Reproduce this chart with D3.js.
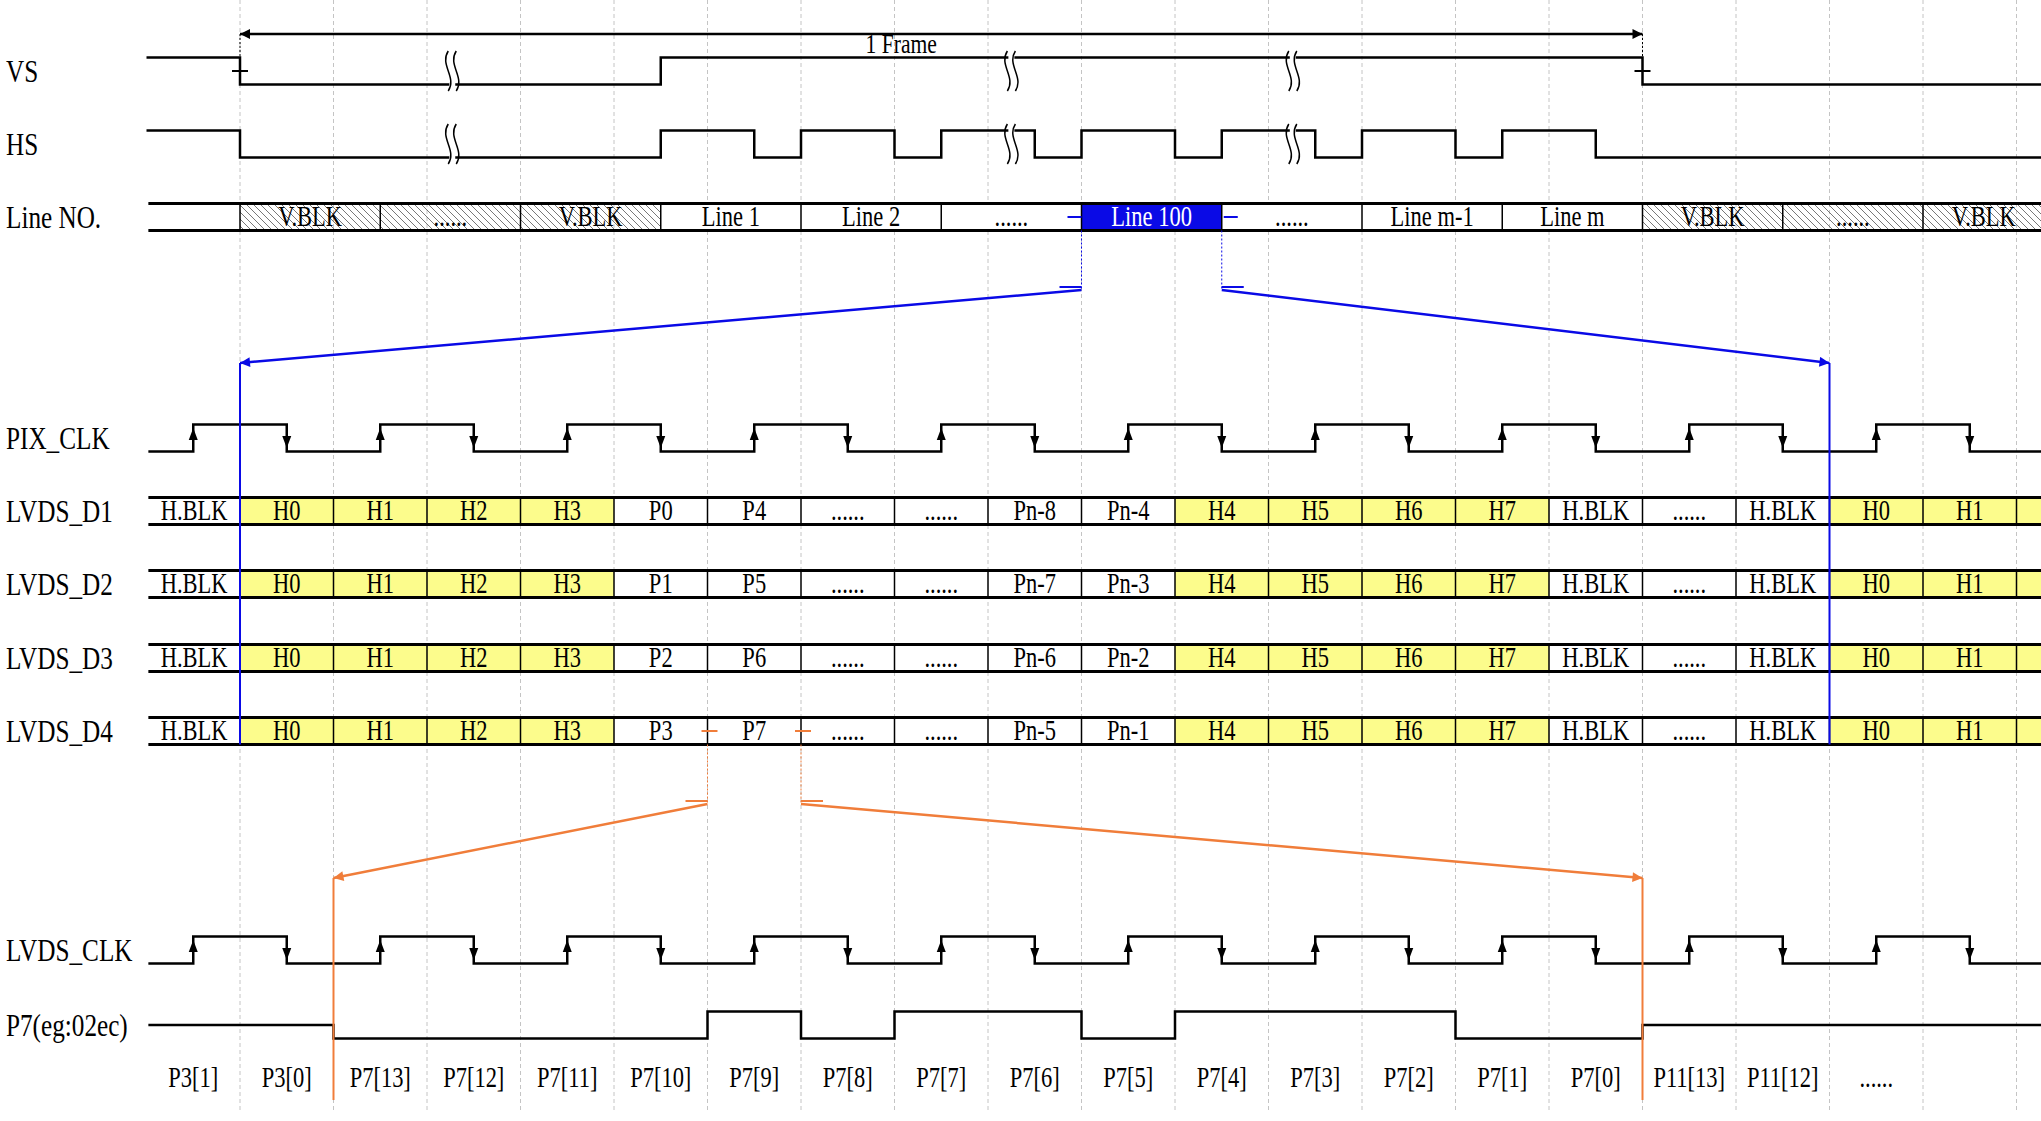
<!DOCTYPE html>
<html>
<head>
<meta charset="utf-8">
<script src="https://cdn.jsdelivr.net/npm/d3@7"></script>
<style>
  body { margin: 0; background: #fff; }
  text { font-family: "Liberation Serif", "Times New Roman", serif; }
</style>
</head>
<body>
<script>
// time is in grid units, one unit = half a pixel-clock period
var ROW_NAMES = ['VS', 'HS', 'Line NO.', 'PIX_CLK', 'LVDS_D1', 'LVDS_D2', 'LVDS_D3', 'LVDS_D4', 'LVDS_CLK', 'P7(eg:02ec)']

// level waveforms: [time, level]  (1 = high, 0 = low)
var VS_LEVELS = [[-1, 1], [0, 0], [4.5, 1], [15, 0]]
var HS_LEVELS = [[-1, 1], [0, 0], [4.5, 1], [5.5, 0], [6, 1], [7, 0], [7.5, 1], [8.5, 0], [9, 1], [10, 0],
                 [10.5, 1], [11.5, 0], [12, 1], [13, 0], [13.5, 1], [14.5, 0]]
var BREAKS = [2.27, 8.25, 11.26]

var LINE_CELLS = ['V.BLK', '......', 'V.BLK', 'Line 1', 'Line 2', '......', 'Line 100', '......', 'Line m-1', 'Line m', 'V.BLK', '......', 'V.BLK']
var LINE_HATCH = [1, 1, 1, 0, 0, 0, 0, 0, 0, 0, 1, 1, 1]
var LINE_FOCUS = 6

var D1_CELLS = ['H.BLK', 'H0', 'H1', 'H2', 'H3', 'P0', 'P4', '......', '......', 'Pn-8', 'Pn-4', 'H4', 'H5', 'H6', 'H7', 'H.BLK', '......', 'H.BLK', 'H0', 'H1', '']
var D2_CELLS = ['H.BLK', 'H0', 'H1', 'H2', 'H3', 'P1', 'P5', '......', '......', 'Pn-7', 'Pn-3', 'H4', 'H5', 'H6', 'H7', 'H.BLK', '......', 'H.BLK', 'H0', 'H1', '']
var D3_CELLS = ['H.BLK', 'H0', 'H1', 'H2', 'H3', 'P2', 'P6', '......', '......', 'Pn-6', 'Pn-2', 'H4', 'H5', 'H6', 'H7', 'H.BLK', '......', 'H.BLK', 'H0', 'H1', '']
var D4_CELLS = ['H.BLK', 'H0', 'H1', 'H2', 'H3', 'P3', 'P7', '......', '......', 'Pn-5', 'Pn-1', 'H4', 'H5', 'H6', 'H7', 'H.BLK', '......', 'H.BLK', 'H0', 'H1', '']
var CELL_YELLOW = [0, 1, 1, 1, 1, 0, 0, 0, 0, 0, 0, 1, 1, 1, 1, 0, 0, 0, 1, 1, 1]

var P7_BITS = [0, 0, 0, 0, 1, 0, 1, 1, 0, 1, 1, 1, 0, 0]   // P7[13] .. P7[0]
var BIT_LABELS = ['P3[1]', 'P3[0]', 'P7[13]', 'P7[12]', 'P7[11]', 'P7[10]', 'P7[9]', 'P7[8]', 'P7[7]', 'P7[6]',
                  'P7[5]', 'P7[4]', 'P7[3]', 'P7[2]', 'P7[1]', 'P7[0]', 'P11[13]', 'P11[12]', '......']

var W = 2041, H = 1121
var T_START = -0.98, T_END = 19.3
var BLUE = '#0a0ae6', ORANGE = '#f07d3a', YELLOW = '#fcfc8c'

var x = d3.scaleLinear().domain([0, 1]).range([240, 333.5])
var rowY = d3.scaleOrdinal().domain(ROW_NAMES).range([71, 144, 217, 438, 511, 584, 658, 731, 950, 1025])
var HALF = 13.5

var svg = d3.select('body').append('svg').attr('width', W).attr('height', H)
var defs = svg.append('defs')
var pat = defs.append('pattern').attr('id', 'hatch').attr('patternUnits', 'userSpaceOnUse')
  .attr('width', 7).attr('height', 7)
pat.append('path').attr('d', 'M-1,-1 L8,8 M-8,-1 L1,8 M6,-1 L15,8').attr('stroke', '#555').attr('stroke-width', 0.8)

function marker(id, color){
  defs.append('marker').attr('id', id).attr('viewBox', '0 0 10 10').attr('refX', 10).attr('refY', 5)
    .attr('markerWidth', 14).attr('markerHeight', 10).attr('markerUnits', 'userSpaceOnUse').attr('orient', 'auto-start-reverse')
    .append('path').attr('d', 'M0,0 L10,5 L0,10 Z').attr('fill', color)
}
marker('arrBlack', '#000'); marker('arrBlue', BLUE); marker('arrOrange', ORANGE)

// text drawn a little taller than wide, like the source figure
function tallText(g, tx, ty, size){
  return g.append('text').attr('transform', 'translate(' + tx + ',' + ty + ') scale(0.9,1.15)').attr('font-size', size)
}

// grid
svg.append('g').selectAll('line').data(d3.range(0, 20)).enter().append('line')
  .attr('x1', x).attr('x2', x).attr('y1', 0).attr('y2', 1110)
  .attr('stroke', '#c4c4c4').attr('stroke-width', 1).attr('stroke-dasharray', '4,3')

// row labels
var labels = svg.append('g')
ROW_NAMES.forEach(function(d){ tallText(labels, 6, rowY(d) + 11, 28).text(d) })

function levelPath(levels, yc, end){
  var pts = []
  levels.forEach(function(l, i){
    var y = yc + (l[1] ? -HALF : HALF)
    var t1 = i + 1 < levels.length ? levels[i + 1][0] : end
    pts.push([x(l[0]), y], [x(t1), y])
  })
  return d3.line()(pts)
}

function drawLevels(levels, row){
  svg.append('path').attr('d', levelPath(levels, rowY(row), T_END)).attr('fill', 'none')
    .attr('stroke', '#000').attr('stroke-width', 2.5)
}
drawLevels(VS_LEVELS, 'VS')
drawLevels(HS_LEVELS, 'HS')

// break marks
BREAKS.forEach(function(t){
  ['VS', 'HS'].forEach(function(r){
    var cx = x(t), y0 = rowY(r) - 20, y1 = rowY(r) + 20
    var s = function(dx){ return 'M' + (cx + dx) + ',' + y0 + ' C' + (cx + dx - 9) + ',' + (y0 + 14) + ' ' + (cx + dx + 9) + ',' + (y1 - 14) + ' ' + (cx + dx) + ',' + y1 }
    svg.append('rect').attr('x', cx - 3).attr('y', y0).attr('width', 6).attr('height', y1 - y0).attr('fill', '#fff')
    svg.append('path').attr('d', s(-4)).attr('fill', 'none').attr('stroke', '#000').attr('stroke-width', 1.5)
    svg.append('path').attr('d', s(4)).attr('fill', 'none').attr('stroke', '#000').attr('stroke-width', 1.5)
  })
})

// frame arrow
svg.append('line').attr('x1', x(0)).attr('x2', x(15)).attr('y1', 34).attr('y2', 34).attr('stroke', '#000').attr('stroke-width', 2.5)
  .attr('marker-start', 'url(#arrBlack)').attr('marker-end', 'url(#arrBlack)')
tallText(svg, x(7.5) - 40, 53, 24).attr('text-anchor', 'middle').text('1 Frame')
;[0, 15].forEach(function(t){
  svg.append('line').attr('x1', x(t)).attr('x2', x(t) + 16).attr('y1', 71).attr('y2', 71).attr('stroke', '#000').attr('stroke-width', 2)
    .attr('transform', 'translate(-8,0)')
  svg.append('line').attr('x1', x(t)).attr('x2', x(t)).attr('y1', 34).attr('y2', 58).attr('stroke', '#000').attr('stroke-dasharray', '2,2')
})

// bus rows
function drawBus(cells, row, starts, fills, texts){
  var yc = rowY(row), y0 = yc - HALF, y1 = yc + HALF
  var g = svg.append('g')
  cells.forEach(function(c, i){
    var a = starts(i), b = i + 1 < cells.length ? starts(i + 1) : T_END
    g.append('rect').attr('x', x(a)).attr('y', y0).attr('width', x(b) - x(a)).attr('height', y1 - y0).attr('fill', fills(i))
    if(i > 0) g.append('line').attr('x1', x(a)).attr('x2', x(a)).attr('y1', y0).attr('y2', y1).attr('stroke', '#000').attr('stroke-width', 1.5)
    tallText(g, (x(a) + x(b)) / 2, yc + 9, 25).attr('text-anchor', 'middle').attr('fill', texts(i)).text(c)
  })
  ;[y0, y1].forEach(function(y){
    g.append('line').attr('x1', x(T_START)).attr('x2', x(T_END)).attr('y1', y).attr('y2', y).attr('stroke', '#000').attr('stroke-width', 3)
  })
}

drawBus([''].concat(LINE_CELLS), 'Line NO.',
  function(i){ return i === 0 ? T_START : (i - 1) * 1.5 },
  function(i){ return i === LINE_FOCUS + 1 ? BLUE : (i > 0 && LINE_HATCH[i - 1] ? 'url(#hatch)' : '#fff') },
  function(i){ return i === LINE_FOCUS + 1 ? '#fff' : '#000' })

;[[D1_CELLS, 'LVDS_D1'], [D2_CELLS, 'LVDS_D2'], [D3_CELLS, 'LVDS_D3'], [D4_CELLS, 'LVDS_D4']].forEach(function(p){
  drawBus(p[0], p[1],
    function(i){ return i === 0 ? T_START : i - 1 },
    function(i){ return CELL_YELLOW[i] ? YELLOW : '#fff' },
    function(){ return '#000' })
})

// clocks
function drawClock(row){
  var yc = rowY(row), hi = yc - HALF, lo = yc + HALF
  var edges = d3.range(-0.5, T_END, 1)
  var pts = [[x(T_START), lo]]
  edges.forEach(function(t, i){
    var rising = i % 2 === 0
    pts.push([x(t), rising ? lo : hi], [x(t), rising ? hi : lo])
  })
  pts.push([x(T_END), edges.length % 2 ? hi : lo])
  svg.append('path').attr('d', d3.line()(pts)).attr('fill', 'none').attr('stroke', '#000').attr('stroke-width', 2.5)
  svg.append('g').selectAll('path').data(edges).enter().append('path')
    .attr('d', function(t, i){
      var cx = x(t)
      return i % 2 === 0 ? 'M' + (cx - 4.5) + ',' + (yc + 2) + ' L' + (cx + 4.5) + ',' + (yc + 2) + ' L' + cx + ',' + (yc - 10) + ' Z'
                         : 'M' + (cx - 4.5) + ',' + (yc - 2) + ' L' + (cx + 4.5) + ',' + (yc - 2) + ' L' + cx + ',' + (yc + 10) + ' Z'
    }).attr('fill', '#000')
}
drawClock('PIX_CLK')
drawClock('LVDS_CLK')

// P7 serial data
var p7y = rowY('P7(eg:02ec)')
var p7pts = [[x(T_START), p7y], [x(1), p7y]]
P7_BITS.forEach(function(b, i){
  var y = b ? p7y - HALF : p7y + HALF
  p7pts.push([x(1 + i), y], [x(2 + i), y])
})
p7pts.push([x(15), p7y], [x(T_END), p7y])
svg.append('path').attr('d', d3.line()(p7pts)).attr('fill', 'none').attr('stroke', '#000').attr('stroke-width', 2.5)

var bits = svg.append('g')
BIT_LABELS.forEach(function(d, i){ tallText(bits, x(i - 0.5), 1087, 25).attr('text-anchor', 'middle').text(d) })

// blue zoom lines (Line 100 -> one line of pixels)
var bl = x(LINE_FOCUS * 1.5), br = x(LINE_FOCUS * 1.5 + 1.5)
;[bl, br].forEach(function(xx, i){
  svg.append('line').attr('x1', xx).attr('x2', xx).attr('y1', rowY('Line NO.') + HALF).attr('y2', 290)
    .attr('stroke', BLUE).attr('stroke-dasharray', '2,2')
  svg.append('line').attr('x1', i ? xx + 2 : xx - 14).attr('x2', i ? xx + 16 : xx).attr('y1', 217).attr('y2', 217).attr('stroke', BLUE).attr('stroke-width', 2)
  svg.append('line').attr('x1', i ? xx : xx - 22).attr('x2', i ? xx + 22 : xx).attr('y1', 287).attr('y2', 287).attr('stroke', BLUE).attr('stroke-width', 2)
})
svg.append('line').attr('x1', bl).attr('y1', 290).attr('x2', x(0)).attr('y2', 363).attr('stroke', BLUE).attr('stroke-width', 2.5).attr('marker-end', 'url(#arrBlue)')
svg.append('line').attr('x1', br).attr('y1', 290).attr('x2', x(17)).attr('y2', 363).attr('stroke', BLUE).attr('stroke-width', 2.5).attr('marker-end', 'url(#arrBlue)')
;[0, 17].forEach(function(t){
  svg.append('line').attr('x1', x(t)).attr('x2', x(t)).attr('y1', 363).attr('y2', rowY('LVDS_D4') + HALF).attr('stroke', BLUE).attr('stroke-width', 2)
})

// orange zoom lines (P7 -> serial bits)
var ol = x(5), or = x(6), d4y = rowY('LVDS_D4')
;[ol, or].forEach(function(xx){
  svg.append('line').attr('x1', xx).attr('x2', xx).attr('y1', d4y + HALF).attr('y2', 803).attr('stroke', ORANGE).attr('stroke-dasharray', '2,2')
  svg.append('line').attr('x1', xx - 6).attr('x2', xx + 10).attr('y1', d4y).attr('y2', d4y).attr('stroke', ORANGE).attr('stroke-width', 2)
})
svg.append('line').attr('x1', ol - 22).attr('x2', ol).attr('y1', 801).attr('y2', 801).attr('stroke', ORANGE).attr('stroke-width', 2)
svg.append('line').attr('x1', or).attr('x2', or + 22).attr('y1', 801).attr('y2', 801).attr('stroke', ORANGE).attr('stroke-width', 2)
svg.append('line').attr('x1', ol).attr('y1', 804).attr('x2', x(1)).attr('y2', 878).attr('stroke', ORANGE).attr('stroke-width', 2.5).attr('marker-end', 'url(#arrOrange)')
svg.append('line').attr('x1', or).attr('y1', 804).attr('x2', x(15)).attr('y2', 878).attr('stroke', ORANGE).attr('stroke-width', 2.5).attr('marker-end', 'url(#arrOrange)')
;[1, 15].forEach(function(t){
  svg.append('line').attr('x1', x(t)).attr('x2', x(t)).attr('y1', 878).attr('y2', 1100).attr('stroke', ORANGE).attr('stroke-width', 2)
})
</script>
</body>
</html>
